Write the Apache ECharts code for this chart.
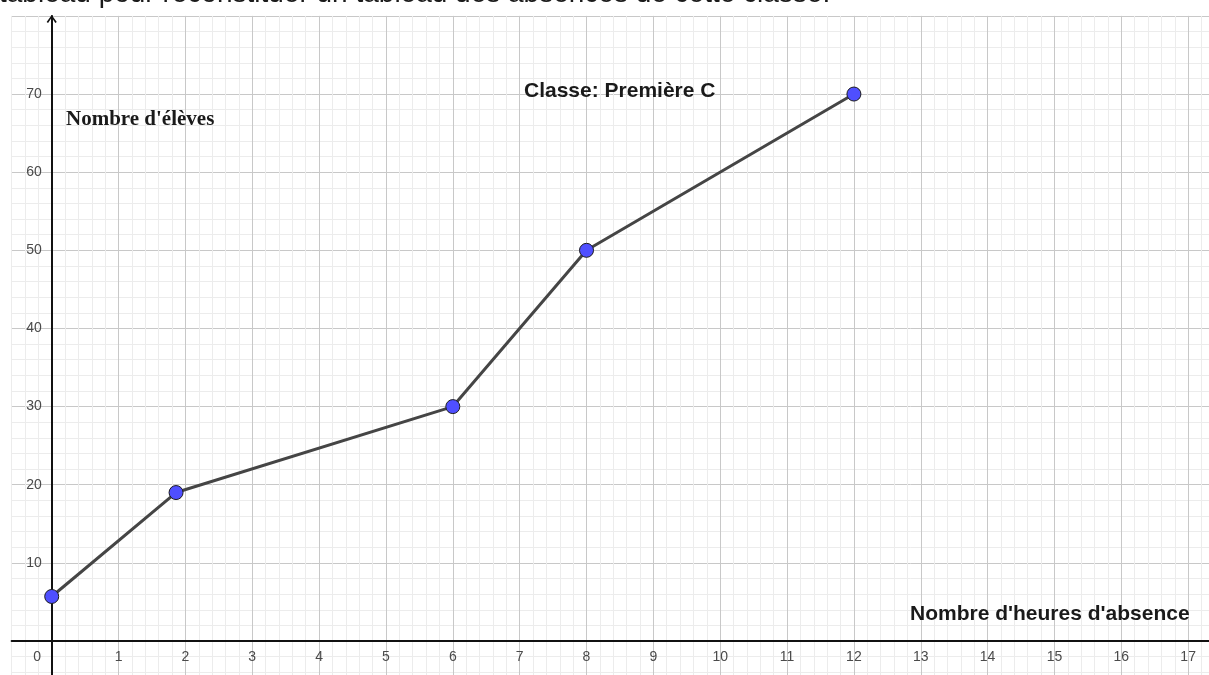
<!DOCTYPE html>
<html>
<head>
<meta charset="utf-8">
<script src="https://cdn.jsdelivr.net/npm/echarts@6/dist/echarts.min.js"></script>
<style>html,body{margin:0;padding:0;background:#fff}#c{width:1209px;height:675px}</style>
</head>
<body>
<div id="c"></div>
<script>
// ---- data ----
const hours = [0, 1.86, 6, 8, 12];
const students = [5.7, 19, 30, 50, 70];
const xTickLabels = ['0','1','2','3','4','5','6','7','8','9','10','11','12','13','14','15','16','17'];
const yTickLabels = ['10','20','30','40','50','60','70'];
const pageText = 'tableau pour reconstituer un tableau des absences de cette classe.';
const classTitle = 'Classe: Première C';
const xName = "Nombre d'heures d'absence";
const yName = "Nombre d'élèves";

// ---- view ----
const X_MIN = -0.6, X_MAX = 17.4, X_STEP = 0.2;
const Y_MIN = -6, Y_MAX = 80, Y_STEP = 2;
const UNIT_X = 66.85, UNIT_Y = 7.814;
const GRID_LEFT = 11.6, GRID_TOP = 15.9;
const PLOT_W = (X_MAX - X_MIN) * UNIT_X;
const PLOT_H = (Y_MAX - Y_MIN) * UNIT_Y;
const X_AXIS_OFFSET = -(0 - Y_MIN) * UNIT_Y;  // move x axis up to y = 0
const Y_AXIS_OFFSET = -(0 - X_MIN) * UNIT_X;  // move y axis right to x = 0
const MINOR = '#ececec', MAJOR = '#c8c8c8';
const gridColors = [MINOR, MINOR, MINOR, MAJOR, MINOR];
const SANS = '"Liberation Sans", Arial, sans-serif';
const SERIF = '"Liberation Serif", "Times New Roman", serif';
const LABEL_COLOR = '#4a4a4a';

function near(v, r) { return Math.abs(v - r) < 1e-6; }

const chart = echarts.init(document.getElementById('c'), null, {renderer: 'canvas'});
chart.setOption({
  animation: false,
  backgroundColor: '#ffffff',
  grid: {left: GRID_LEFT, top: GRID_TOP, width: PLOT_W, height: PLOT_H, containLabel: false, outerBoundsMode: 'none'},
  xAxis: [
    { // grid lines
      type: 'value', min: X_MIN, max: X_MAX, interval: X_STEP, position: 'top', z: 0,
      axisLine: {show: false}, axisTick: {show: false}, axisLabel: {show: false},
      splitLine: {show: true, showMinLine: true, showMaxLine: true, lineStyle: {color: gridColors, width: 1}}
    },
    { // visible axis
      type: 'value', min: X_MIN, max: X_MAX, interval: X_STEP, position: 'bottom', offset: X_AXIS_OFFSET, z: 2,
      axisLine: {show: true, onZero: false, lineStyle: {color: '#111', width: 2}},
      axisTick: {show: false},
      splitLine: {show: false},
      axisLabel: {
        show: true, margin: 9, color: LABEL_COLOR, fontSize: 14, fontFamily: SANS,
        formatter: function (v) {
          const r = Math.round(v);
          if (!near(v, r)) return '';
          const s = String(r);
          if (xTickLabels.indexOf(s) < 0) return '';
          return r === 0 ? '{z|0}' : s;
        },
        rich: {z: {padding: [0, 29, 0, 0], color: LABEL_COLOR, fontSize: 14, fontFamily: SANS}}
      }
    }
  ],
  yAxis: [
    {
      type: 'value', min: Y_MIN, max: Y_MAX, interval: Y_STEP, position: 'right', z: 0,
      axisLine: {show: false}, axisTick: {show: false}, axisLabel: {show: false},
      splitLine: {show: true, showMinLine: true, showMaxLine: true, lineStyle: {color: gridColors, width: 1}}
    },
    {
      type: 'value', min: Y_MIN, max: Y_MAX, interval: Y_STEP, position: 'left', offset: Y_AXIS_OFFSET, z: 2,
      axisLine: {
        show: true, onZero: false, lineStyle: {color: '#111', width: 2},
        symbol: ['none', 'path://M0,7 L5,0 L10,7 L8.6,7.9 L5,2.5 L1.4,7.9 Z'],
        symbolSize: [12, 8], symbolOffset: [0, -3]
      },
      axisTick: {show: false},
      splitLine: {show: false},
      axisLabel: {
        show: true, margin: 10, color: LABEL_COLOR, fontSize: 14, fontFamily: SANS,
        formatter: function (v) {
          const r = Math.round(v);
          if (!near(v, r)) return '';
          const s = String(r);
          return yTickLabels.indexOf(s) < 0 ? '' : s;
        }
      }
    }
  ],
  series: [{
    type: 'line',
    xAxisIndex: 0, yAxisIndex: 0,
    data: hours.map((h, i) => [h, students[i]]),
    symbol: 'circle', symbolSize: 14,
    lineStyle: {color: '#454545', width: 3},
    itemStyle: {color: '#4f4fff', borderColor: '#1c1c1c', borderWidth: 1},
    z: 5, clip: false, silent: true
  }],
  graphic: [
    {type: 'text', x: -1, y: -5.7, z: 10, style: {text: pageText, fill: '#1a1a1a', fontSize: 28, fontFamily: SANS, verticalAlign: 'middle', align: 'left'}},
    {type: 'text', x: 524, y: 91.7, z: 10, style: {text: classTitle, fill: '#1a1a1a', fontSize: 21, fontWeight: 'bold', fontFamily: SANS, verticalAlign: 'middle', align: 'left'}},
    {type: 'text', x: 66, y: 119.8, z: 10, style: {text: yName, fill: '#1a1a1a', fontSize: 21, fontWeight: 'bold', fontFamily: SERIF, verticalAlign: 'middle', align: 'left'}},
    {type: 'text', x: 910, y: 614.7, z: 10, style: {text: xName, fill: '#1a1a1a', fontSize: 21, fontWeight: 'bold', fontFamily: SANS, verticalAlign: 'middle', align: 'left'}}
  ]
});
</script>
</body>
</html>
